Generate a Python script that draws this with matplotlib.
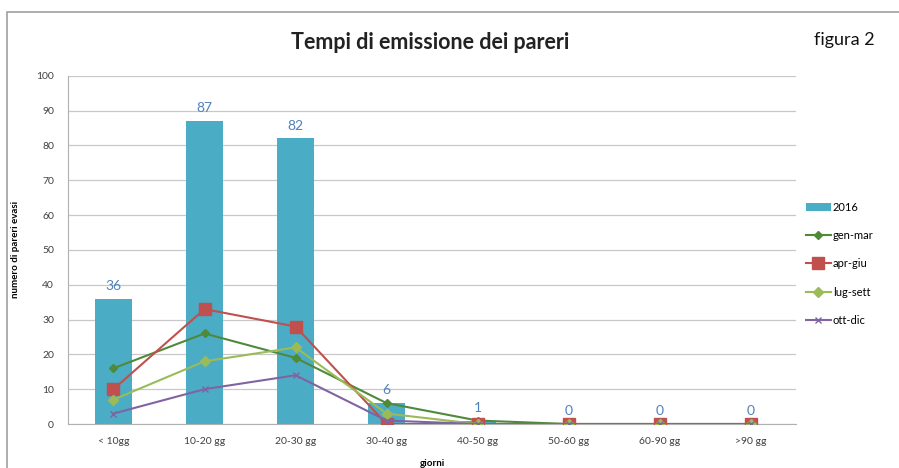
import matplotlib.pyplot as plt
import numpy as np
from matplotlib.patches import Rectangle

plt.rcParams['font.family'] = ['Lato', 'DejaVu Sans']

# data
categories = ['< 10gg', '10-20 gg', '20-30 gg', '30-40 gg', '40-50 gg', '50-60 gg', '60-90 gg', '>90 gg']
tot_2016 = [36, 87, 82, 6, 1, 0, 0, 0]
gen_mar = [16, 26, 19, 6, 1, 0, 0, 0]
apr_giu = [10, 33, 28, 0, 0, 0, 0, 0]
lug_sett = [7, 18, 22, 3, 0, 0, 0, 0]
ott_dic = [3, 10, 14, 1, 0, 0, 0, 0]

fig = plt.figure(figsize=(8.99, 4.68), dpi=100)
ax = fig.add_axes([0.0756, 0.094, 0.81, 0.744])

# chart frame
fig.patches.append(Rectangle((7 / 899, -0.1), 1.2, 1 - 12 / 468 + 0.1, transform=fig.transFigure,
                             fill=False, edgecolor='#a0a0a0', linewidth=1.2))

x = np.arange(len(categories))
ax.bar(x, tot_2016, width=0.4, color='#4BACC6', label='2016', zorder=2)
for xi, v in zip(x, tot_2016):
    ax.text(xi, v + 2, str(v), ha='center', va='bottom', color='#4F81BD', fontsize=10)

ax.plot(x, gen_mar, color='#4E8A3A', marker='D', markersize=4, linewidth=1.5, label='gen-mar', zorder=3)
ax.plot(x, apr_giu, color='#C0504D', marker='s', markersize=8, linewidth=1.5, label='apr-giu', zorder=3)
ax.plot(x, lug_sett, color='#9BBB59', marker='D', markersize=5, linewidth=1.5, label='lug-sett', zorder=3)
ax.plot(x, ott_dic, color='#8064A2', marker='x', markersize=4, linewidth=1.5, label='ott-dic', zorder=3)

ax.set_xlim(-0.5, len(categories) - 0.5)
ax.set_ylim(0, 100)
ax.set_yticks(range(0, 101, 10))
ax.set_xticks(x)
ax.set_xticklabels(categories, fontsize=7.5, color='#404040')
ax.tick_params(axis='y', labelsize=7.5, colors='#404040', length=0, pad=10)
ax.tick_params(axis='x', length=0, pad=9)
ax.grid(axis='y', color='#c8c8c8', linewidth=0.9, zorder=0)
for s in ['top', 'right']:
    ax.spines[s].set_visible(False)
ax.spines['left'].set_color('#b0b0b0')
ax.spines['bottom'].set_color('#b0b0b0')

ax.set_ylabel('numero di pareri evasi', fontsize=7, fontweight='bold', labelpad=12)
ax.set_xlabel('giorni', fontsize=7, fontweight='bold', labelpad=10)

fig.text(0.478, 0.91, 'Tempi di emissione dei pareri', ha='center', va='center',
         fontsize=15.5, fontweight='bold', color='#222222')
fig.text(0.939, 0.915, 'figura 2', ha='center', va='center', fontsize=13, color='#111111')

handles, labels = ax.get_legend_handles_labels()
order = [4, 0, 1, 2, 3]
ax.legend([handles[i] for i in order], [labels[i] for i in order],
          loc='center left', bbox_to_anchor=(1.0, 0.46), frameon=False, fontsize=8,
          handlelength=2.2, handletextpad=0.2, labelspacing=1.55)

fig.savefig('out.png', dpi=100)
